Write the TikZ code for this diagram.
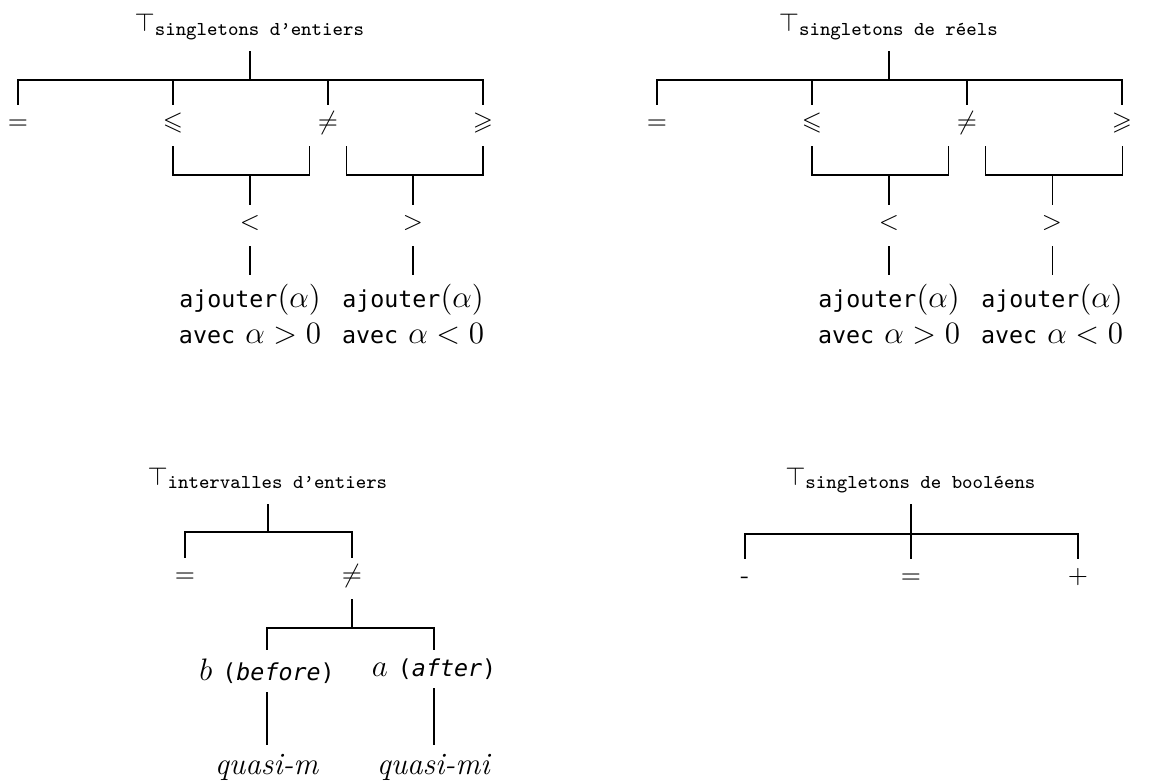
\documentclass[tikz,border=0pt]{standalone}
\usepackage{amsmath,amssymb}
\usepackage{fontspec}
\newfontfamily\codefont{DejaVu Sans Mono}[Scale=0.75]
\usetikzlibrary{arrows}
\newcommand{\topsub}[1]{$\top_{\mbox{\fontsize{7.6}{9}\selectfont\ttfamily #1}}$}

\begin{document}
\begin{tikzpicture}[x=0.386pt,y=-0.386pt,thick,
		hv/.style={to path={-| (\tikztotarget)}},
		vh/.style={to path={|- (\tikztotarget)}}]
		\tikzstyle{root}=[anchor=base,inner sep=3pt,text depth=4pt]
		\tikzstyle{sym}=[anchor=base,inner sep=0pt,text height=8.9pt,text depth=6.2pt]
		\tikzstyle{leaf}=[anchor=north,inner sep=3pt,align=center,font=\large]
		\useasboundingbox (0,0) rectangle (1163,781);
		
		% singletons d'entiers
		\node[root] (R1) at (250,32)  {\topsub{singletons d’entiers}};
		\coordinate (J1) at (250,80);
		\node[sym]  (E1) at (18,129)  {$=$};
		\node[sym]  (L1) at (173,129) {$\leqslant$};
		\node[sym]  (N1) at (328,129) {$\neq$};
		\node[sym]  (G1) at (483,129) {$\geqslant$};
		\coordinate (J2) at (250,175);
		\coordinate (J3) at (413,175);
		\node[sym]  (LT1) at (250,229) {$<$};
		\node[sym]  (GT1) at (413,229) {$>$};
		\node[leaf] (AL1) at (250,275) {{\codefont ajouter}$(\alpha)$\\{\codefont avec} $\alpha>0$};
		\node[leaf] (AG1) at (413,275) {{\codefont ajouter}$(\alpha)$\\{\codefont avec} $\alpha<0$};
		
		\path (R1) edge (J1);
		\path (J1) edge[hv] (E1) edge[hv] (L1) edge[hv] (N1) edge[hv] (G1);
		\path (L1) edge[vh,thin] (J2);
		\path (J2) edge[hv,thin] ([xshift=-7pt]N1.south);
		\path ([xshift=7pt]N1.south) edge[vh,thin] (J3);
		\path (J3) edge[hv,thin] (G1);
		\path (J2) edge[thin] (LT1);
		\path (J3) edge[thin] (GT1);
		\path (LT1) edge[thin] (AL1);
		\path (GT1) edge[thin] (AG1);
		
		% singletons de reels
		\node[root] (R2) at (889,32)   {\topsub{singletons de réels}};
		\coordinate (J4) at (889,80);
		\node[sym]  (E2) at (657,129)  {$=$};
		\node[sym]  (L2) at (812,129)  {$\leqslant$};
		\node[sym]  (N2) at (967,129)  {$\neq$};
		\node[sym]  (G2) at (1122,129) {$\geqslant$};
		\coordinate (J5) at (889,175);
		\coordinate (J6) at (1052,175);
		\node[sym]  (LT2) at (889,229)  {$<$};
		\node[sym]  (GT2) at (1052,229) {$>$};
		\node[leaf] (AL2) at (889,275)  {{\codefont ajouter}$(\alpha)$\\{\codefont avec} $\alpha>0$};
		\node[leaf] (AG2) at (1052,275) {{\codefont ajouter}$(\alpha)$\\{\codefont avec} $\alpha<0$};
		
		\path (R2) edge (J4);
		\path (J4) edge[hv] (E2) edge[hv] (L2) edge[hv] (N2) edge[hv] (G2);
		\path (L2) edge[vh,thin] (J5);
		\path (J5) edge[hv,thin] ([xshift=-7pt]N2.south);
		\path ([xshift=7pt]N2.south) edge[vh,thin] (J6);
		\path (J6) edge[hv,thin] (G2);
		\path (J5) edge[thin] (LT2);
		\path (J6) edge[thin] (GT2);
		\path (LT2) edge[thin] (AL2);
		\path (GT2) edge[thin] (AG2);
		
		% intervalles d'entiers
		\node[root] (R3) at (268,485) {\topsub{intervalles d’entiers}};
		\coordinate (J7) at (268,532);
		\node[sym]  (E3) at (185,582) {$=$};
		\node[sym]  (N3) at (352,582) {$\neq$};
		\coordinate (J8) at (352,628);
		\node[leaf] (B3) at (267,650) {$b$ {\codefont(\itshape before\upshape)}};
		\node[leaf] (A3) at (434,650) {$a$ {\codefont(\itshape after\upshape)}};
		\node[leaf] (QM3) at (267,745) {\textit{quasi-m}};
		\node[leaf] (QI3) at (434,745) {\textit{quasi-mi}};
		
		\path (R3) edge (J7);
		\path (J7) edge[hv] (E3) edge[hv] (N3);
		\path (N3) edge (J8);
		\path (J8) edge[hv] (B3) edge[hv] (A3);
		\path (B3) edge (QM3);
		\path (A3) edge (QI3);
		
		% singletons de booleens
		\node[root] (R4) at (911,485) {\topsub{singletons de booléens}};
		\coordinate (J9) at (911,534);
		\node[sym]  (M4) at (745,583)  {-};
		\node[sym]  (E4) at (911,583)  {$=$};
		\node[sym]  (P4) at (1078,583) {$+$};
		
		\path (R4) edge (E4);
		\path (J9) edge[hv] (M4) edge[hv] (P4);
		\end{tikzpicture}
\end{document}
